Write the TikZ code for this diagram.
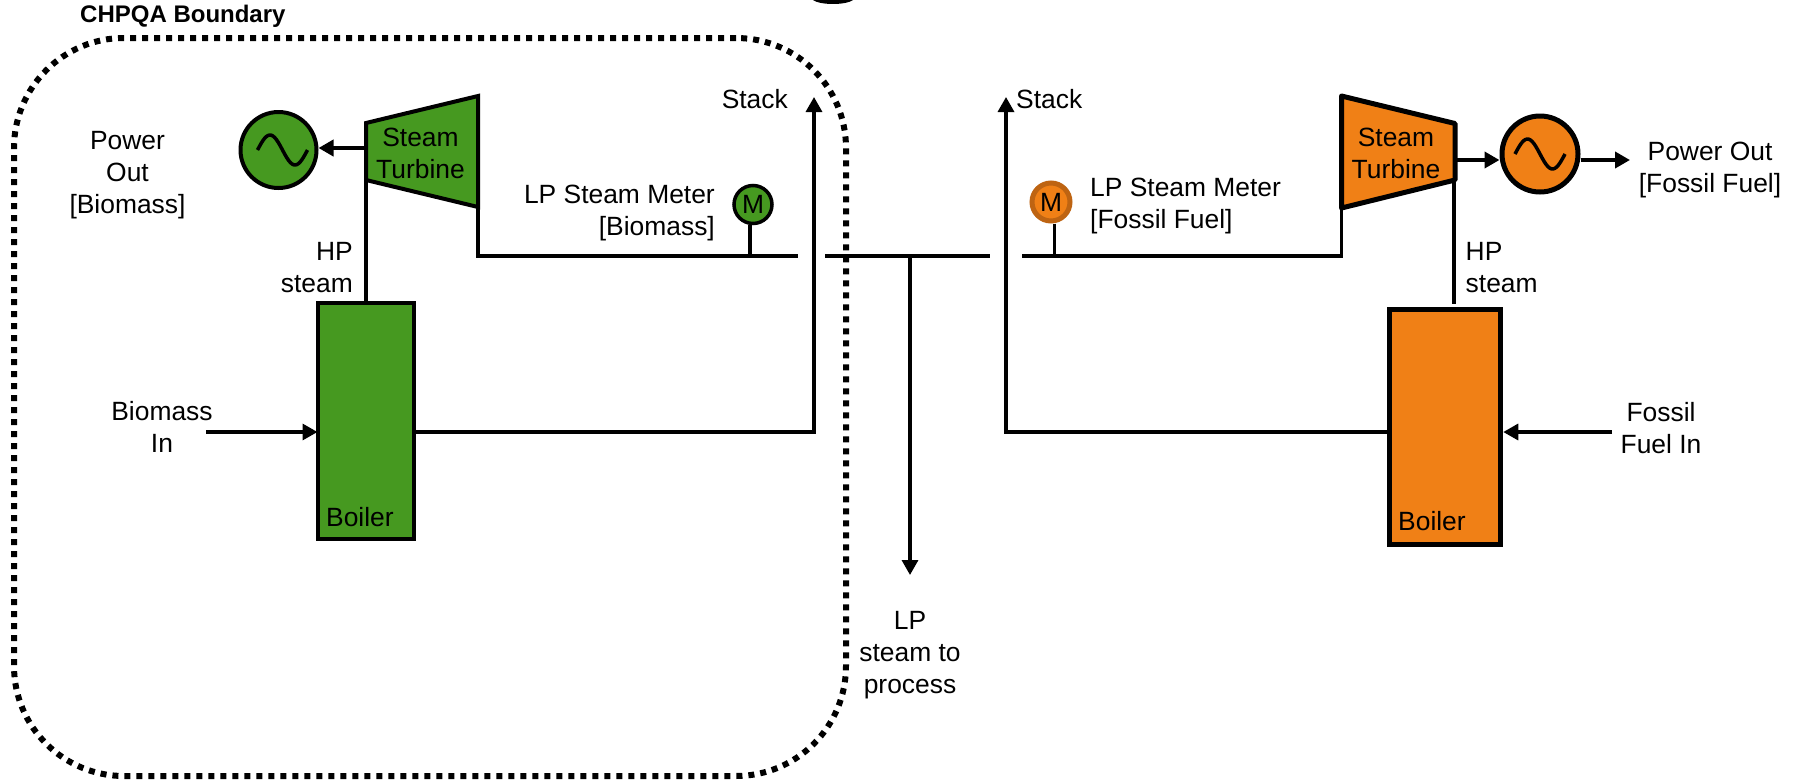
\documentclass[tikz,border=0pt]{standalone}
\usepackage{fontspec}
\setmainfont{Liberation Sans}
\usetikzlibrary{positioning,arrows.meta}
\definecolor{biogreen}{RGB}{70,153,32}
\definecolor{fossorange}{RGB}{240,128,22}
\definecolor{meterrim}{RGB}{190,100,18}
\tikzset{
    lbl/.style={inner sep=0pt, align=center, font=\fontsize{26.4}{32}\selectfont},
    unit/.style={draw, line width=4pt, inner sep=0pt},
    gen/.style={unit, circle, minimum size=76pt},
    meter/.style={unit, circle, minimum size=38pt, line width=3.5pt},
    pipe/.style={line width=3.3pt},
    flow/.style={pipe, -{Triangle[width=16pt,length=15pt]}},
}

\begin{document}
\begin{tikzpicture}[x=1pt, y=-1pt]
    \useasboundingbox (0,0) rectangle (1797,780);

    % boundary
    \node[draw, line width=6pt, dash pattern=on 6pt off 6pt, rounded corners=110pt,
          minimum width=832pt, minimum height=738pt, inner sep=0pt] (bound) at (430,407) {};
    \node[lbl, font=\bfseries\fontsize{24}{28}\selectfont, anchor=west] (boundlbl) at (80,16) {CHPQA Boundary};
    \fill (813,0) .. controls (820,5.3) and (846,5.3) .. (853,0) -- cycle;

    % biomass side
    \node[unit, outer sep=0pt, fill=biogreen, minimum width=96pt, minimum height=236pt] (boilb) at (365.5,421) {};
    \node[lbl, anchor=west] (boilblbl) at (326,517) {Boiler};
    \coordinate (tb1) at (366,123);
    \coordinate (tb2) at (478,96);
    \coordinate (tb3) at (478,207);
    \coordinate (tb4) at (366,180);
    \draw[line width=4pt, fill=biogreen, miter limit=4] (tb1) -- (tb2) -- (tb3) -- (tb4) -- cycle;
    \node[lbl] (tbtxt) at (420.5,153) {Steam\\Turbine};
    \node[gen, fill=biogreen] (genb) at (278.5,150) {};
    \draw[line width=3.5pt, line join=round, shift={(genb.center)}, xshift=4pt]
        plot[domain=-25:25, samples=30, smooth] (\x, {-15*sin(7.2*(\x+25))});
    \node[meter, fill=biogreen, font=\fontsize{26.4}{32}\selectfont] (metb) at (753,204.5) {M};
    \node[lbl] (powb) at (127.5,175.5) {Power\\Out\\{[Biomass]}};
    \node[lbl, align=right, anchor=east] (metblbl) at (715,213) {LP Steam Meter\\{[Biomass]}};
    \node[lbl, align=right, anchor=east] (hpb) at (353,268) {HP\\steam};
    \node[lbl, anchor=east] (stackb) at (788,99) {Stack};
    \node[lbl] (inb) at (162,427) {Biomass\\In};

    % fossil side
    \node[unit, fill=fossorange, line width=5pt, minimum width=111.5pt, minimum height=235pt] (boilf) at (1445,427) {};
    \node[lbl, anchor=west] (boilflbl) at (1398,521) {Boiler};
    \coordinate (tf1) at (1341.5,96);
    \coordinate (tf2) at (1455,123.5);
    \coordinate (tf3) at (1455,180);
    \coordinate (tf4) at (1341.5,208);
    \draw[line width=5pt, fill=fossorange, line join=round] (tf1) -- (tf2) -- (tf3) -- (tf4) -- cycle;
    \node[lbl] (tftxt) at (1396,153.5) {Steam\\Turbine};
    \node[gen, fill=fossorange, line width=5pt] (genf) at (1540,154) {};
    \draw[line width=3.5pt, line join=round, shift={(genf.center)}]
        plot[domain=-25:25, samples=30, smooth] (\x, {-15*sin(7.2*(\x+25))});
    \node[meter, fill=fossorange, draw=meterrim, line width=5pt, font=\fontsize{26.4}{32}\selectfont] (metf) at (1051,202) {M};
    \node[lbl, align=left, anchor=west] (metflbl) at (1090,206.5) {LP Steam Meter\\{[Fossil Fuel]}};
    \node[lbl] (powf) at (1710,170) {Power Out\\{[Fossil Fuel]}};
    \node[lbl, align=left, anchor=west] (hpf) at (1465.5,268) {HP\\steam};
    \node[lbl, anchor=west] (stackf) at (1016,99) {Stack};
    \node[lbl] (inf) at (1661,428) {Fossil\\Fuel In};
    \node[lbl] (lplbl) at (910,655.5) {LP\\steam to\\process};

    % free ends
    \coordinate (sb) at (814,97);
    \coordinate (sf) at (1006,97);
    \coordinate (lpb) at (478,256);
    \coordinate (lpb2) at (798,256);
    \coordinate (lpm) at (825,256);
    \coordinate (lpm2) at (990,256);
    \coordinate (lpf) at (1022,256);
    \coordinate (lpt) at (910,256);
    \coordinate (lpo) at (910,575);
    \coordinate (infb) at (206,432);
    \coordinate (inff) at (1612,432);
    \coordinate (outf) at (1630,160);

    % connectors
    \draw[pipe] (tb4) -- (tb4 |- boilb.north);
    \draw[pipe] (tb3) -- (lpb) -- (lpb2);
    \draw[pipe] (metb.south -| 750,0) -- (750,256);
    \draw[pipe] (lpm) -- (lpm2);
    \draw[pipe] (lpf) -- (tf4 |- lpf) -- (tf4);
    \draw[pipe] (metf.south -| 1054.5,0) -- (1054.5,256);
    \draw[pipe] (tf3 -| 1454,0) -- (1454,304);
    \draw[flow] (lpt) -- (lpo);
    \draw[flow] (boilb.east |- infb) -- (sb |- infb) -- (sb);
    \draw[flow] (boilf.west |- inff) -- (sf |- inff) -- (sf);
    \draw[flow] (infb) -- (boilb.west |- infb);
    \draw[flow] (inff) -- (boilf.east |- inff);
    \draw[flow, line width=4pt] (366,148) -- (genb.east |- 0,148);
    \draw[flow, line width=4pt] (1455,160) -- (genf.west |- 0,160);
    \draw[flow, line width=4pt] (genf.east |- outf) -- (outf);
\end{tikzpicture}
\end{document}
